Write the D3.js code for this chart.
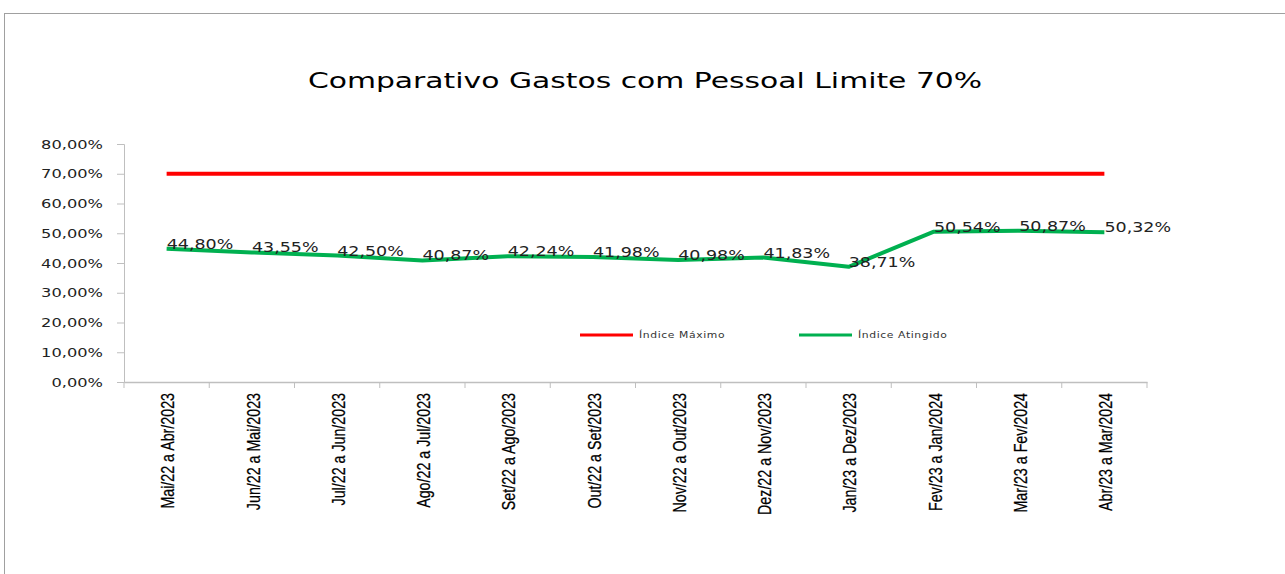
<!DOCTYPE html>
<html>
<head>
<meta charset="utf-8">
<script src="https://cdn.jsdelivr.net/npm/d3@7"></script>
<style>
  body { margin: 0; background: #fff; }
  svg { display: block; }
</style>
</head>
<body>
<script>
// Size of the page
const w = 1285;
const h = 574;

// Data
const categories = [
  'Mai/22 a Abr/2023', 'Jun/22 a Mai/2023', 'Jul/22 a Jun/2023', 'Ago/22 a Jul/2023',
  'Set/22 a Ago/2023', 'Out/22 a Set/2023', 'Nov/22 a Out/2023', 'Dez/22 a Nov/2023',
  'Jan/23 a Dez/2023', 'Fev/23 a Jan/2024', 'Mar/23 a Fev/2024', 'Abr/23 a Mar/2024'
];
const indiceMaximo = [70, 70, 70, 70, 70, 70, 70, 70, 70, 70, 70, 70];
const indiceAtingido = [44.80, 43.55, 42.50, 40.87, 42.24, 41.98, 40.98, 41.83, 38.71, 50.54, 50.87, 50.32];
const yTicks = [0, 10, 20, 30, 40, 50, 60, 70, 80];

const fmt = v => d3.format('.2f')(v).replace('.', ',') + '%';
const font = 'DejaVu Sans, Verdana, sans-serif';

const svg = d3.select('body').append('svg')
  .attr('width', w)
  .attr('height', h);

// Outer frame
svg.append('rect')
  .attr('x', 4.5).attr('y', 13.5)
  .attr('width', w + 10).attr('height', h)
  .attr('fill', 'none')
  .attr('stroke', '#a0a0a0');

// Title (the original text is drawn wide, so stretch it)
svg.append('text')
  .attr('transform', 'translate(645,88) scale(1.42,1)')
  .attr('text-anchor', 'middle')
  .style('font-family', font)
  .style('font-size', '21px')
  .attr('fill', '#000')
  .text('Comparativo Gastos com Pessoal Limite 70%');

// Scales
const x = d3.scaleBand().domain(categories).range([124, 1147]);
const y = d3.scaleLinear().domain([0, 80]).range([382, 144]);
const cx = d => x(d) + x.bandwidth() / 2;

// Y axis
const yAxis = svg.append('g')
  .attr('transform', 'translate(124,0)')
  .call(d3.axisLeft(y).tickValues(yTicks).tickFormat(fmt).tickSize(7).tickPadding(6));
yAxis.select('.domain').attr('stroke', '#bfbfbf');
yAxis.selectAll('.tick line').attr('stroke', '#bfbfbf');
yAxis.selectAll('text')
  .attr('x', 0)
  .attr('transform', 'translate(-21,0) scale(1.3,1)')
  .style('font-family', font)
  .style('font-size', '12.5px')
  .attr('fill', '#222');

// X axis
const xAxis = svg.append('g')
  .attr('transform', 'translate(0,382)')
  .call(d3.axisBottom(x).tickSize(0).tickSizeOuter(0));
xAxis.select('.domain').attr('stroke', '#bfbfbf').attr('stroke-width', 1.5);
// tick marks at the band boundaries
svg.append('g').selectAll('line')
  .data(d3.range(categories.length + 1))
  .join('line')
  .attr('x1', i => 124 + i * x.step())
  .attr('x2', i => 124 + i * x.step())
  .attr('y1', 382).attr('y2', 388)
  .attr('stroke', '#bfbfbf');
// condensed labels: squeeze a regular sans along the text direction
xAxis.selectAll('text')
  .attr('transform', 'translate(1,11) rotate(-90) scale(0.75,1)')
  .attr('x', 0).attr('y', 0).attr('dy', '0.36em')
  .attr('text-anchor', 'end')
  .style('font-family', '"Liberation Sans Narrow", "Arial Narrow", "Liberation Sans", sans-serif')
  .style('font-size', '19px')
  .attr('fill', '#000')
  .attr('stroke', '#000')
  .attr('stroke-width', 0.25);

// Lines
const line = d3.line()
  .x((d, i) => cx(categories[i]))
  .y(d => y(d));

svg.append('path')
  .datum(indiceMaximo)
  .attr('d', line)
  .attr('fill', 'none')
  .attr('stroke', '#ff0000')
  .attr('stroke-width', 4);

svg.append('path')
  .datum(indiceAtingido)
  .attr('d', line)
  .attr('fill', 'none')
  .attr('stroke', '#00b050')
  .attr('stroke-width', 4)
  .attr('stroke-linejoin', 'round');

// Data labels: centred a little right of the point, first one kept off the axis
const labelScale = 1.25;
svg.append('g').selectAll('text')
  .data(indiceAtingido)
  .join('text')
  .style('font-family', font)
  .style('font-size', '14px')
  .attr('fill', '#222')
  .text(fmt)
  .attr('transform', function(d, i) {
    const half = this.getComputedTextLength() * labelScale / 2;
    const px = cx(categories[i]);
    const c = Math.max(px + 12, px + half);
    return `translate(${c},${y(d)}) scale(${labelScale},1)`;
  })
  .attr('text-anchor', 'middle');

// Legend
const legend = [
  { name: 'Índice Máximo', color: '#ff0000', x: 580 },
  { name: 'Índice Atingido', color: '#00b050', x: 799 }
];
const lg = svg.append('g').selectAll('g')
  .data(legend)
  .join('g')
  .attr('transform', d => `translate(${d.x},335)`);
lg.append('line')
  .attr('x1', 0).attr('x2', 53)
  .attr('stroke', d => d.color)
  .attr('stroke-width', 3);
lg.append('text')
  .attr('transform', 'translate(59,0) scale(1.2,1)')
  .attr('dy', '0.35em')
  .style('font-family', font)
  .style('font-size', '9px')
  .style('letter-spacing', '0.5px')
  .attr('fill', '#333')
  .text(d => d.name);
</script>
</body>
</html>
